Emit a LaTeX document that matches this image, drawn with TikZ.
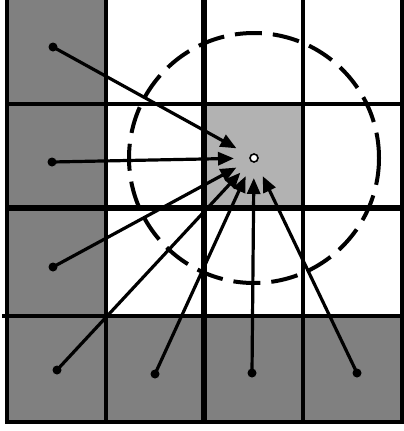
\documentclass[tikz,border=0pt]{standalone}
\usetikzlibrary{arrows.meta}

\begin{document}
\begin{tikzpicture}[
  x=1pt, y=-1pt,
  darkcell/.style={fill=black!50},
  lightcell/.style={fill=black!30},
  gridline/.style={line width=4.2pt},
  midline/.style={line width=5.4pt},
  source/.style={circle, fill=black, inner sep=0pt, minimum size=9pt},
  target/.style={circle, draw=black, fill=white, line width=1.6pt, inner sep=0pt, minimum size=8pt},
  ray/.style={line width=3.2pt, -{Triangle[length=16pt,width=13pt]}, shorten >=20pt},
  ring/.style={line width=4pt, dash pattern=on 27pt off 11pt}
]
\useasboundingbox (0,0) rectangle (404,431);
\clip (0,0) rectangle (404,431);

% shaded cells
\fill[darkcell] (7,-10) rectangle (106,422);
\fill[darkcell] (7,316) rectangle (402,422);
\fill[lightcell] (204,104) rectangle (303,208);

% grid
\foreach \x in {7,106,303,402}
  \draw[gridline] (\x,-10) -- (\x,422);
\draw[midline] (204,-10) -- (204,422);
\draw[gridline] (4.9,422) -- (404,422);
\draw[gridline] (7,104) -- (402,104);
\draw[midline] (7,208) -- (402,208);
\draw[gridline] (2,316) -- (402,316);

\node[target] (t) at (254,158) {};
\draw[ring] (t.center) circle (125);

\node[source] (s1) at (53,47) {};
\node[source] (s2) at (52,162) {};
\node[source] (s3) at (53,267) {};
\node[source] (s4) at (57,370) {};
\node[source] (s5) at (155,374) {};
\node[source] (s6) at (252,373) {};
\node[source] (s7) at (357,373) {};

\foreach \s in {s1,s2,s3,s4,s5,s6,s7}
  \draw[ray] (\s.center) -- (t.center);

\end{tikzpicture}
\end{document}
